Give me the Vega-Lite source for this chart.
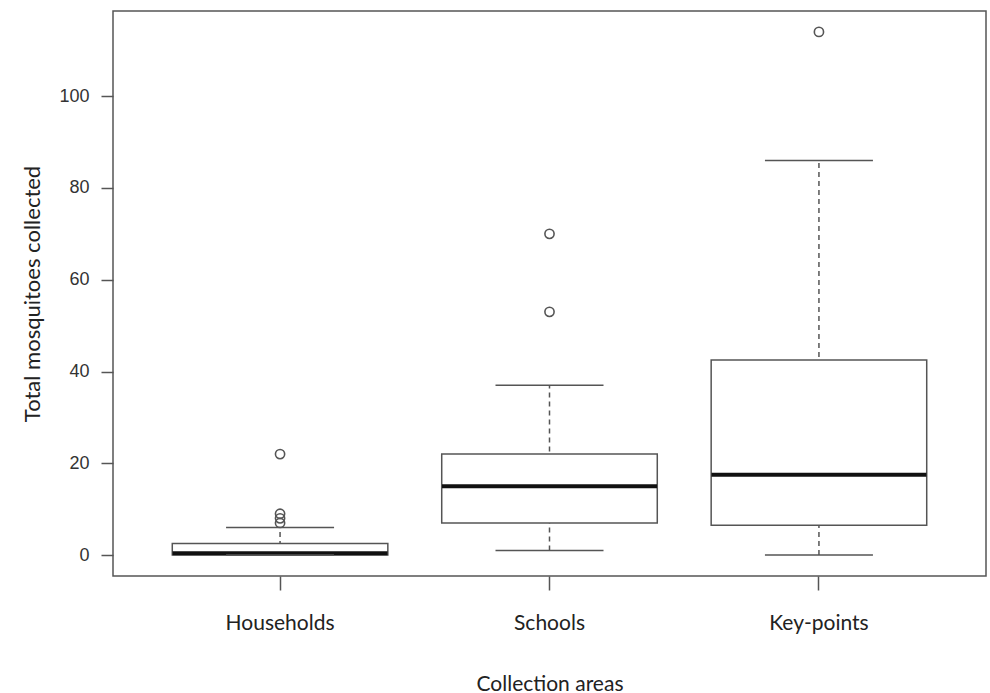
{
  "$schema": "https://vega.github.io/schema/vega-lite/v6.json",
  "autosize": {"type": "none"},
  "padding": {"left": 113, "top": 11, "right": 4, "bottom": 117},
  "width": 873,
  "height": 565,
  "background": "white",
  "config": {
    "view": {"stroke": "#555555", "strokeWidth": 1.5},
    "axis": {"grid": false, "domain": false, "tickColor": "#555555", "tickWidth": 1.5}
  },
  "datasets": {
    "boxes": [
      {"area": "Households", "lower": 0, "q1": 0, "median": 0.4, "q3": 2.5, "upper": 6},
      {"area": "Schools", "lower": 1, "q1": 7, "median": 15, "q3": 22, "upper": 37},
      {"area": "Key-points", "lower": 0, "q1": 6.5, "median": 17.5, "q3": 42.5, "upper": 86}
    ],
    "outliers": [
      {"area": "Households", "value": 22},
      {"area": "Households", "value": 9},
      {"area": "Households", "value": 8},
      {"area": "Households", "value": 7},
      {"area": "Schools", "value": 70},
      {"area": "Schools", "value": 53},
      {"area": "Key-points", "value": 114}
    ]
  },
  "encoding": {
    "x": {
      "field": "area", "type": "nominal",
      "scale": {"type": "band", "domain": ["Households", "Schools", "Key-points"], "paddingInner": 0.2, "paddingOuter": 0.22},
      "axis": {
        "title": "Collection areas", "labelAngle": 0, "tickSize": 14,
        "labelFont": "Lato", "labelFontSize": 21, "labelColor": "#222222", "labelPadding": 22,
        "titleFont": "Lato", "titleFontSize": 21, "titleFontWeight": "normal", "titleColor": "#222222", "titlePadding": 40
      }
    }
  },
  "layer": [
    {
      "data": {"name": "boxes"},
      "mark": {"type": "rule", "color": "#555555", "strokeWidth": 1.5, "strokeDash": [5, 4]},
      "encoding": {
        "y": {"field": "lower", "type": "quantitative",
          "scale": {"domain": [-4.56, 118.56], "nice": false, "zero": false},
          "axis": {
            "title": "Total mosquitoes collected", "values": [0, 20, 40, 60, 80, 100], "tickSize": 12,
            "labelFont": "Liberation Sans", "labelFontSize": 18, "labelColor": "#333333", "labelPadding": 12,
            "titleFont": "Lato", "titleFontSize": 22, "titleFontWeight": "normal", "titleColor": "#222222", "titlePadding": 14
          }
        },
        "y2": {"field": "upper"}
      }
    },
    {
      "data": {"name": "boxes"},
      "mark": {"type": "bar", "fill": "white", "stroke": "#555555", "strokeWidth": 1.5},
      "encoding": {
        "y": {"field": "q1", "type": "quantitative"},
        "y2": {"field": "q3"}
      }
    },
    {
      "data": {"name": "boxes"},
      "mark": {"type": "tick", "orient": "horizontal", "color": "#111111", "thickness": 4, "size": 215, "opacity": 1},
      "encoding": {"y": {"field": "median", "type": "quantitative"}}
    },
    {
      "data": {"name": "boxes"},
      "mark": {"type": "tick", "orient": "horizontal", "color": "#555555", "thickness": 1.5, "size": 108, "opacity": 1},
      "encoding": {"y": {"field": "lower", "type": "quantitative"}}
    },
    {
      "data": {"name": "boxes"},
      "mark": {"type": "tick", "orient": "horizontal", "color": "#555555", "thickness": 1.5, "size": 108, "opacity": 1},
      "encoding": {"y": {"field": "upper", "type": "quantitative"}}
    },
    {
      "data": {"name": "outliers"},
      "mark": {"type": "point", "shape": "circle", "filled": false, "color": "#555555", "strokeWidth": 1.6, "size": 85, "opacity": 1},
      "encoding": {"y": {"field": "value", "type": "quantitative"}}
    }
  ]
}
